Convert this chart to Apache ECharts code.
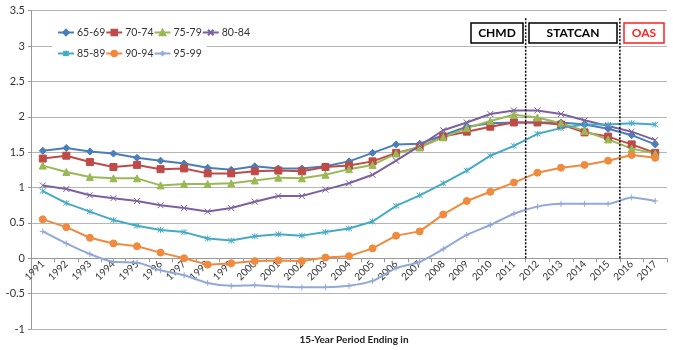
<!DOCTYPE html>
<html>
<head>
<meta charset="utf-8">
<script src="https://cdn.jsdelivr.net/npm/echarts@6/dist/echarts.min.js"></script>
<style>
  html, body { margin: 0; padding: 0; background: #fff; }
  #main { width: 673px; height: 350px; }
</style>
</head>
<body>
<div id="main"></div>
<script>
const years = ['1991', '1992', '1993', '1994', '1995', '1996', '1997', '1998', '1999', '2000',
  '2001', '2002', '2003', '2004', '2005', '2006', '2007', '2008', '2009', '2010',
  '2011', '2012', '2013', '2014', '2015', '2016', '2017']

const s6569 = [1.52, 1.56, 1.51, 1.48, 1.42, 1.38, 1.34, 1.28, 1.25, 1.30, 1.27, 1.27, 1.30, 1.37, 1.49, 1.61, 1.62, 1.74, 1.86, 1.91, 1.92, 1.92, 1.92, 1.89, 1.83, 1.74, 1.61]
const s7074 = [1.41, 1.45, 1.36, 1.29, 1.32, 1.26, 1.27, 1.20, 1.20, 1.23, 1.24, 1.23, 1.29, 1.31, 1.37, 1.49, 1.57, 1.72, 1.79, 1.86, 1.92, 1.92, 1.89, 1.78, 1.72, 1.61, 1.49]
const s7579 = [1.31, 1.22, 1.15, 1.13, 1.13, 1.03, 1.05, 1.05, 1.06, 1.10, 1.14, 1.13, 1.18, 1.26, 1.32, 1.48, 1.57, 1.71, 1.84, 1.94, 2.03, 1.99, 1.91, 1.80, 1.68, 1.55, 1.48]
const s8084 = [1.03, 0.98, 0.89, 0.85, 0.81, 0.75, 0.71, 0.66, 0.71, 0.80, 0.88, 0.88, 0.97, 1.06, 1.18, 1.38, 1.59, 1.81, 1.92, 2.04, 2.09, 2.09, 2.04, 1.95, 1.87, 1.79, 1.67]
const s8589 = [0.95, 0.78, 0.66, 0.54, 0.46, 0.40, 0.37, 0.28, 0.25, 0.31, 0.34, 0.32, 0.37, 0.42, 0.52, 0.74, 0.89, 1.06, 1.24, 1.45, 1.59, 1.76, 1.84, 1.89, 1.89, 1.91, 1.89]
const s9094 = [0.55, 0.44, 0.29, 0.21, 0.17, 0.08, 0.00, -0.09, -0.07, -0.04, -0.03, -0.04, 0.01, 0.03, 0.14, 0.32, 0.38, 0.62, 0.81, 0.94, 1.07, 1.21, 1.28, 1.32, 1.38, 1.46, 1.42]
const s9599 = [0.38, 0.21, 0.06, -0.05, -0.06, -0.17, -0.24, -0.35, -0.39, -0.38, -0.40, -0.41, -0.41, -0.39, -0.32, -0.14, -0.05, 0.13, 0.33, 0.47, 0.63, 0.73, 0.77, 0.77, 0.77, 0.86, 0.81]

// source changes fall between these years
const dividers = [2011.5, 2015.5]
const dividerTop = 3.4

const yMin = -1
const yMax = 3.5

const font = 'Lato'
const xPath = 'path://M0,0L10,10M10,0L0,10'
const starPath = 'path://M0,0L10,10M10,0L0,10M5,-1L5,11'
const plusPath = 'path://M5,0L5,10M0,5L10,5'

const gridTop = 10.7
const gridBottom = 21
const chartH = 350
// category axis sits on the zero line, like the excel original
const zeroOffset = -(chartH - gridTop - gridBottom) * (0 - yMin) / (yMax - yMin)

function lineSeries(name, data, color, symbol, size, extra) {
  return Object.assign({
    name: name,
    type: 'line',
    data: data,
    symbol: symbol,
    symbolSize: size,
    showAllSymbol: true,
    lineStyle: { color: color, width: 2 },
    itemStyle: { color: color, borderColor: color, borderWidth: 1 },
    emphasis: { disabled: true },
    z: 3
  }, extra || {})
}

let chart = echarts.init(document.getElementById('main'))

const series = [
  lineSeries('65-69', s6569, '#4a7ebb', 'diamond', 7),
  lineSeries('70-74', s7074, '#be4b48', 'rect', 7),
  lineSeries('75-79', s7579, '#98b954', 'triangle', 7),
  lineSeries('80-84', s8084, '#7d60a0', xPath, 6),
  lineSeries('85-89', s8589, '#46aac5', starPath, 6),
  lineSeries('90-94', s9094, '#ef8a3e', 'circle', 7),
  lineSeries('95-99', s9599, '#92a9d8', plusPath, 6, { smooth: 0.25 })
]

dividers.forEach(function (d) {
  series.push({
    type: 'line',
    xAxisIndex: 1,
    data: [[d, 0], [d, dividerTop]],
    showSymbol: false,
    silent: true,
    lineStyle: { color: '#000', width: 1.5, type: [2, 1.5] },
    z: 4
  })
})

function box(x, w, label, color) {
  return [
    {
      type: 'rect',
      shape: { x: x, y: 23, width: w, height: 20 },
      style: { fill: '#fff', stroke: color, lineWidth: 1.5 },
      z: 10
    },
    {
      type: 'text',
      x: x + w / 2,
      y: 33.5,
      style: {
        text: label, fill: color, font: 'bold 12px ' + font,
        textAlign: 'center', textVerticalAlign: 'middle'
      },
      z: 11
    }
  ]
}

const legendBase = {
  left: 52,
  width: 210,
  itemWidth: 16,
  itemHeight: 7,
  itemGap: 0,
  backgroundColor: '#fff',
  textStyle: { fontSize: 10.5, color: '#333', fontFamily: font, padding: [0, 0, 0, -2] }
}

chart.setOption({
  backgroundColor: '#fff',
  animation: false,
  textStyle: { fontFamily: font },
  grid: { left: 31, right: 6, top: gridTop, bottom: gridBottom, containLabel: false, outerBoundsMode: 'none' },
  legend: [
    Object.assign({}, legendBase, {
      data: ['65-69', '70-74', '75-79', '80-84'],
      top: 24,
      padding: [3, 5, 8, 5]
    }),
    Object.assign({}, legendBase, {
      data: ['85-89', '90-94', '95-99'],
      top: 46,
      padding: [2, 5, 2, 5]
    })
  ],
  title: {
    text: '15-Year Period Ending in',
    left: 349,
    top: 330,
    textAlign: 'center',
    textStyle: { fontSize: 10, fontWeight: 'bold', color: '#222', fontFamily: font }
  },
  xAxis: [
    {
      type: 'category',
      data: years,
      boundaryGap: true,
      offset: zeroOffset,
      axisLine: { onZero: false, lineStyle: { color: '#999' } },
      axisTick: { show: true, length: 4, lineStyle: { color: '#999' } },
      axisLabel: { rotate: 45, fontSize: 10, color: '#333', margin: 4, interval: 0 },
      splitLine: { show: false }
    },
    {
      type: 'value',
      min: 1990.5,
      max: 2017.5,
      show: false,
      axisLine: { onZero: false }
    }
  ],
  yAxis: {
    type: 'value',
    min: yMin,
    max: yMax,
    interval: 0.5,
    axisLine: { show: true, onZero: false, lineStyle: { color: '#999' } },
    axisTick: { show: true, length: 3, lineStyle: { color: '#999' } },
    axisLabel: { fontSize: 11, color: '#333', margin: 6 },
    splitLine: { lineStyle: { color: '#b5b5b5', width: 1 } }
  },
  graphic: [].concat(
    box(471, 52, 'CHMD', '#000'),
    box(529, 88, 'STATCAN', '#000'),
    box(624, 40, 'OAS', '#ff2020')
  ),
  series: series
})
</script>
</body>
</html>
